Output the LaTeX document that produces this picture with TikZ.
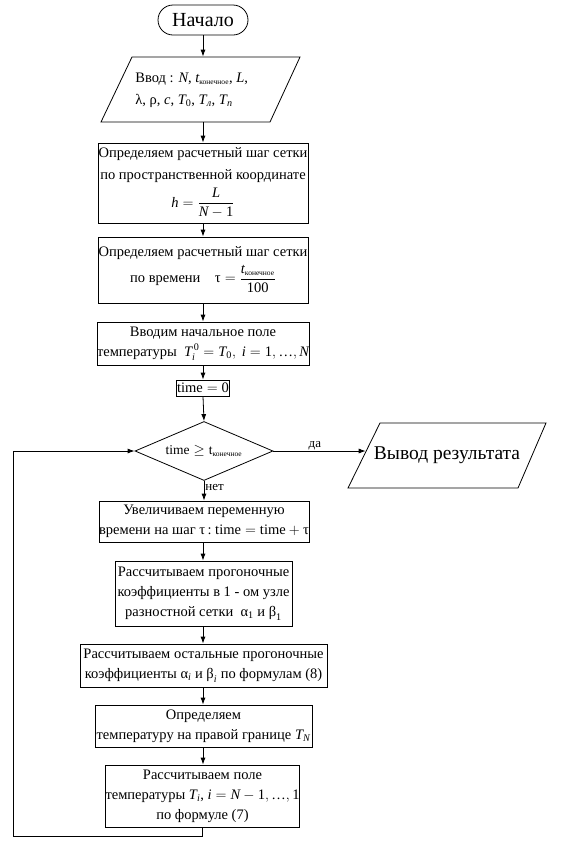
\documentclass[tikz,border=0pt]{standalone}
\usepackage{amsmath}
\usepackage{fontspec}
\setmainfont{Liberation Serif}
\usetikzlibrary{shapes.geometric,arrows.meta}
\newcommand\mi[1]{\textit{#1}}
\newcommand\tx[1]{\text{#1}}
\newcommand\kon{\text{\fontsize{7.5}{8}\selectfont конечное}}
\begin{document}
\begin{tikzpicture}[x=1pt,y=-1pt,
  line width=0.8pt,
  txt/.style={font=\fontsize{14.5}{20}\selectfont},
  box/.style={draw, rectangle, inner sep=0pt, align=center, txt},
  arr/.style={-{Latex[length=7pt,width=5pt]}, line width=0.8pt},
  lbl/.style={font=\fontsize{13}{15}\selectfont, inner sep=1pt}]
\useasboundingbox (0,0) rectangle (567,844);

% start
\node[draw, rounded corners=15pt, minimum width=90pt, minimum height=30pt, inner sep=0pt,
      font=\fontsize{20}{24}\selectfont] (start) at (203,20) {Начало};

% input parallelogram
\draw (132,57) -- (300,57) -- (270,122) -- (101,122) -- cycle;
\node[minimum width=10pt, minimum height=65pt, inner sep=0pt] (inp) at (203,89.5) {};
\node[txt, anchor=west, align=left, inner sep=0pt] (inptext) at (135,90)
  {Ввод : $\mi{N}$, $\mi{t}_{\kon}$, $\mi{L}$,\\[2pt]
   λ, ρ, $\mi{c}$, $\mi{T}_{\tx{0}}$, $\mi{T}_{\mi{л}}$, $\mi{T}_{\mi{п}}$};

\node[box, minimum width=210pt, minimum height=80pt] (b1) at (203,183)
  {Определяем расчетный шаг сетки\\[2pt] по пространственной координате\\[4pt]
   $\mi{h}=\dfrac{\mi{L}}{\mi{N}-\tx{1}}$};

\node[box, minimum width=210pt, minimum height=66pt] (b2) at (203,270)
  {Определяем расчетный шаг сетки\\[4pt]
   по времени\quad $\tx{τ}=\dfrac{\mi{t}_{\kon}}{\tx{100}}$};

\node[box, minimum width=205pt, minimum height=43pt] (b3) at (203,343.5)
  {Вводим начальное поле\\
   температуры\ \ $\mi{T}_{\mi{i}}^{\,\tx{0}}=\mi{T}_{\tx{0}},\ \mi{i}=\tx{1},\tx{…},\mi{N}$};

\node[box, minimum width=53pt, minimum height=16pt] (t0) at (203,388)
  {$\tx{time}=\tx{0}$};

\node[draw, diamond, minimum width=138pt, minimum height=59pt, inner sep=0pt, aspect=2.3,
      font=\fontsize{13.5}{15}\selectfont] (dia) at (204,451)
  {$\tx{time}\geq\tx{t}_{\kon}$};

% output parallelogram
\draw (380,423) -- (546,423) -- (518,488) -- (348,488) -- cycle;
\node[font=\fontsize{19.5}{22}\selectfont, inner sep=0pt] (outt) at (447,455) {Вывод результата};
\coordinate (outL) at (365.7,451);

\node[box, minimum width=210pt, minimum height=41pt] (b4) at (204,521.5)
  {Увеличиваем переменную\\
   времени на шаг τ\,:\ $\tx{time}=\tx{time}+\tx{τ}$};

\node[box, minimum width=177pt, minimum height=65pt] (b5) at (203.5,593.5)
  {Рассчитываем прогоночные\\
   коэффициенты в 1 - ом узле\\
   разностной сетки\ \ $\tx{α}_{\tx{1}}$ и $\tx{β}_{\tx{1}}$};

\node[box, minimum width=247pt, minimum height=43pt] (b6) at (203.5,665.5)
  {Рассчитываем остальные прогоночные\\
   коэффициенты $\tx{α}_{\mi{i}}$ и $\tx{β}_{\mi{i}}$ по формулам (8)};

\node[box, minimum width=217pt, minimum height=42pt] (b7) at (203.5,726)
  {Определяем\\
   температуру на правой границе $\mi{T}_{\mi{N}}$};

\node[box, minimum width=181pt, minimum height=62pt] (b8) at (202.5,796)
  {Рассчитываем поле\\
   температуры $\mi{T}_{\mi{i}}$,\ $\mi{i}=\mi{N}-\tx{1},\tx{…},\tx{1}$\\
   по формуле (7)};

\coordinate (lb) at (13,836);

% connectors
\draw[arr] (start) -- (inp);
\draw[arr] (inp) -- (b1.north -| inp);
\draw[arr] (b1.south -| inp) -- (b2.north -| inp);
\draw[arr] (b2.south -| inp) -- (b3.north -| inp);
\draw[arr] (b3.south -| inp) -- (t0.north -| inp);
\draw[arr] (t0.south -| inp) -- (dia.north);
\draw[arr] (dia.east) -- node[lbl, above, pos=0.45] {да} (outL);
\draw[arr] (dia.south) -- node[lbl, right, pos=0.35] {нет} (b4.north -| dia.south);
\draw[arr] (b4.south -| inp) -- (b5.north -| inp);
\draw[arr] (b5.south -| inp) -- (b6.north -| inp);
\draw[arr] (b6.south -| inp) -- (b7.north -| inp);
\draw[arr] (b7.south -| inp) -- (b8.north -| inp);
\draw[arr] (b8.south) |- (lb) |- (dia.west);
\end{tikzpicture}
\end{document}
